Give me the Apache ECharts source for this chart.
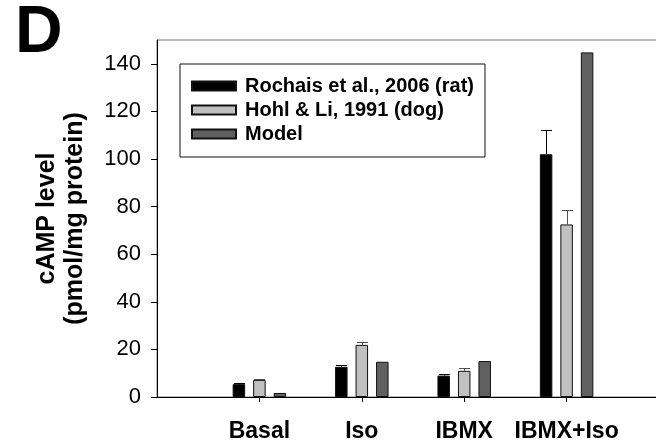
<!DOCTYPE html>
<html>
<head>
<meta charset="utf-8">
<script src="https://cdn.jsdelivr.net/npm/echarts@6/dist/echarts.min.js"></script>
<style>html,body{margin:0;padding:0;background:#fff;}#chart{width:656px;height:442px;}</style>
</head>
<body>
<div id="chart"></div>
<script>
// ---- data ----
const categories = ['Basal', 'Iso', 'IBMX', 'IBMX+Iso'];
const seriesNames = ['Rochais et al., 2006 (rat)', 'Hohl & Li, 1991 (dog)', 'Model'];
const rochais = [5.4, 12.7, 9.0, 102.0];
const rochaisErr = [0.3, 0.7, 0.6, 10.0];
const hohl = [7.2, 21.9, 11.0, 72.5];
const hohlErr = [0.4, 1.0, 1.0, 5.9];
const model = [1.7, 14.8, 15.1, 144.8];
const yTickValues = [0, 20, 40, 60, 80, 100, 120, 140];

// ---- styling ----
const FONT = '"Liberation Sans", Arial, sans-serif';
const BAR_W = 12.5;
const BAR_GAP = 8;
const STEP = BAR_W + BAR_GAP;
const colors = ['#000000', '#c0c0c0', '#606060'];
const errColors = ['#000000', '#505050'];

const axisData = [''].concat(categories).concat(['']);

function barSeries(name, vals, idx) {
  return {
    name: name,
    type: 'bar',
    barWidth: BAR_W,
    barGap: (BAR_GAP / BAR_W * 100) + '%',
    itemStyle: { color: colors[idx], borderColor: '#111', borderWidth: 1 },
    data: categories.map((c, i) => [c, vals[i]]),
    z: 2
  };
}

function errSeries(vals, errs, idx) {
  const offset = (idx - 1) * STEP;
  return {
    name: 'err' + idx,
    type: 'custom',
    z: 3,
    data: categories.map((c, i) => [c, vals[i], errs[i]]),
    renderItem: function (params, api) {
      const xv = api.value(0);
      const top = api.coord([xv, api.value(1)]);
      const cap = api.coord([xv, api.value(1) + api.value(2)]);
      const x = Math.round(top[0] + offset) + 0.5;
      const st = { stroke: errColors[idx], lineWidth: 1 };
      return {
        type: 'group',
        children: [
          { type: 'line', shape: { x1: x, y1: top[1], x2: x, y2: cap[1] }, style: st },
          { type: 'line', shape: { x1: x - 5.5, y1: Math.round(cap[1]) + 0.5, x2: x + 5.5, y2: Math.round(cap[1]) + 0.5 }, style: st }
        ]
      };
    }
  };
}

const chart = echarts.init(document.getElementById('chart'), null, { renderer: 'canvas' });
chart.setOption({
  animation: false,
  backgroundColor: '#fff',
  grid: { left: 157, right: -13, top: 40, bottom: 45, show: true, borderColor: '#777', borderWidth: 1, backgroundColor: 'transparent', outerBoundsMode: 'none', containLabel: false },
  legend: {
    data: seriesNames,
    orient: 'vertical',
    left: 180, top: 64,
    padding: [12, 11, 13, 11],
    itemGap: 4,
    itemWidth: 44, itemHeight: 9,
    icon: 'rect',
    borderColor: '#111', borderWidth: 1,
    selectedMode: false,
    textStyle: { fontFamily: FONT, fontSize: 20, fontWeight: 'bold', color: '#000', padding: [0, 0, 0, 4] }
  },
  xAxis: {
    type: 'category',
    data: axisData,
    boundaryGap: false,
    axisLine: { lineStyle: { color: '#000', width: 1 } },
    axisTick: { show: true, length: 5, lineStyle: { color: '#000' }, interval: function (i, v) { return v !== ''; } },
    axisLabel: { interval: 0, margin: 23, fontFamily: FONT, fontSize: 23, fontWeight: 'bold', color: '#000' },
    splitLine: { show: false }
  },
  yAxis: {
    type: 'value',
    min: 0, max: 150,
    name: 'cAMP level\n(pmol/mg protein)',
    nameLocation: 'middle',
    nameRotate: 90,
    nameGap: 68,
    nameTextStyle: { fontFamily: FONT, fontSize: 25, fontWeight: 'bold', color: '#000', lineHeight: 28, align: 'center' },
    axisLine: { show: true, lineStyle: { color: '#000', width: 1 } },
    axisTick: { show: true, length: 6, lineStyle: { color: '#000' }, customValues: yTickValues },
    axisLabel: { margin: 16, fontFamily: FONT, fontSize: 22, color: '#000', customValues: yTickValues },
    splitLine: { show: false }
  },
  graphic: [{
    type: 'text', left: 15, top: 1,
    style: { text: 'D', fontFamily: FONT, fontSize: 66, fontWeight: 'bold', fill: '#000' }
  }],
  series: [
    barSeries(seriesNames[0], rochais, 0),
    barSeries(seriesNames[1], hohl, 1),
    barSeries(seriesNames[2], model, 2),
    errSeries(rochais, rochaisErr, 0),
    errSeries(hohl, hohlErr, 1)
  ]
});
</script>
</body>
</html>
